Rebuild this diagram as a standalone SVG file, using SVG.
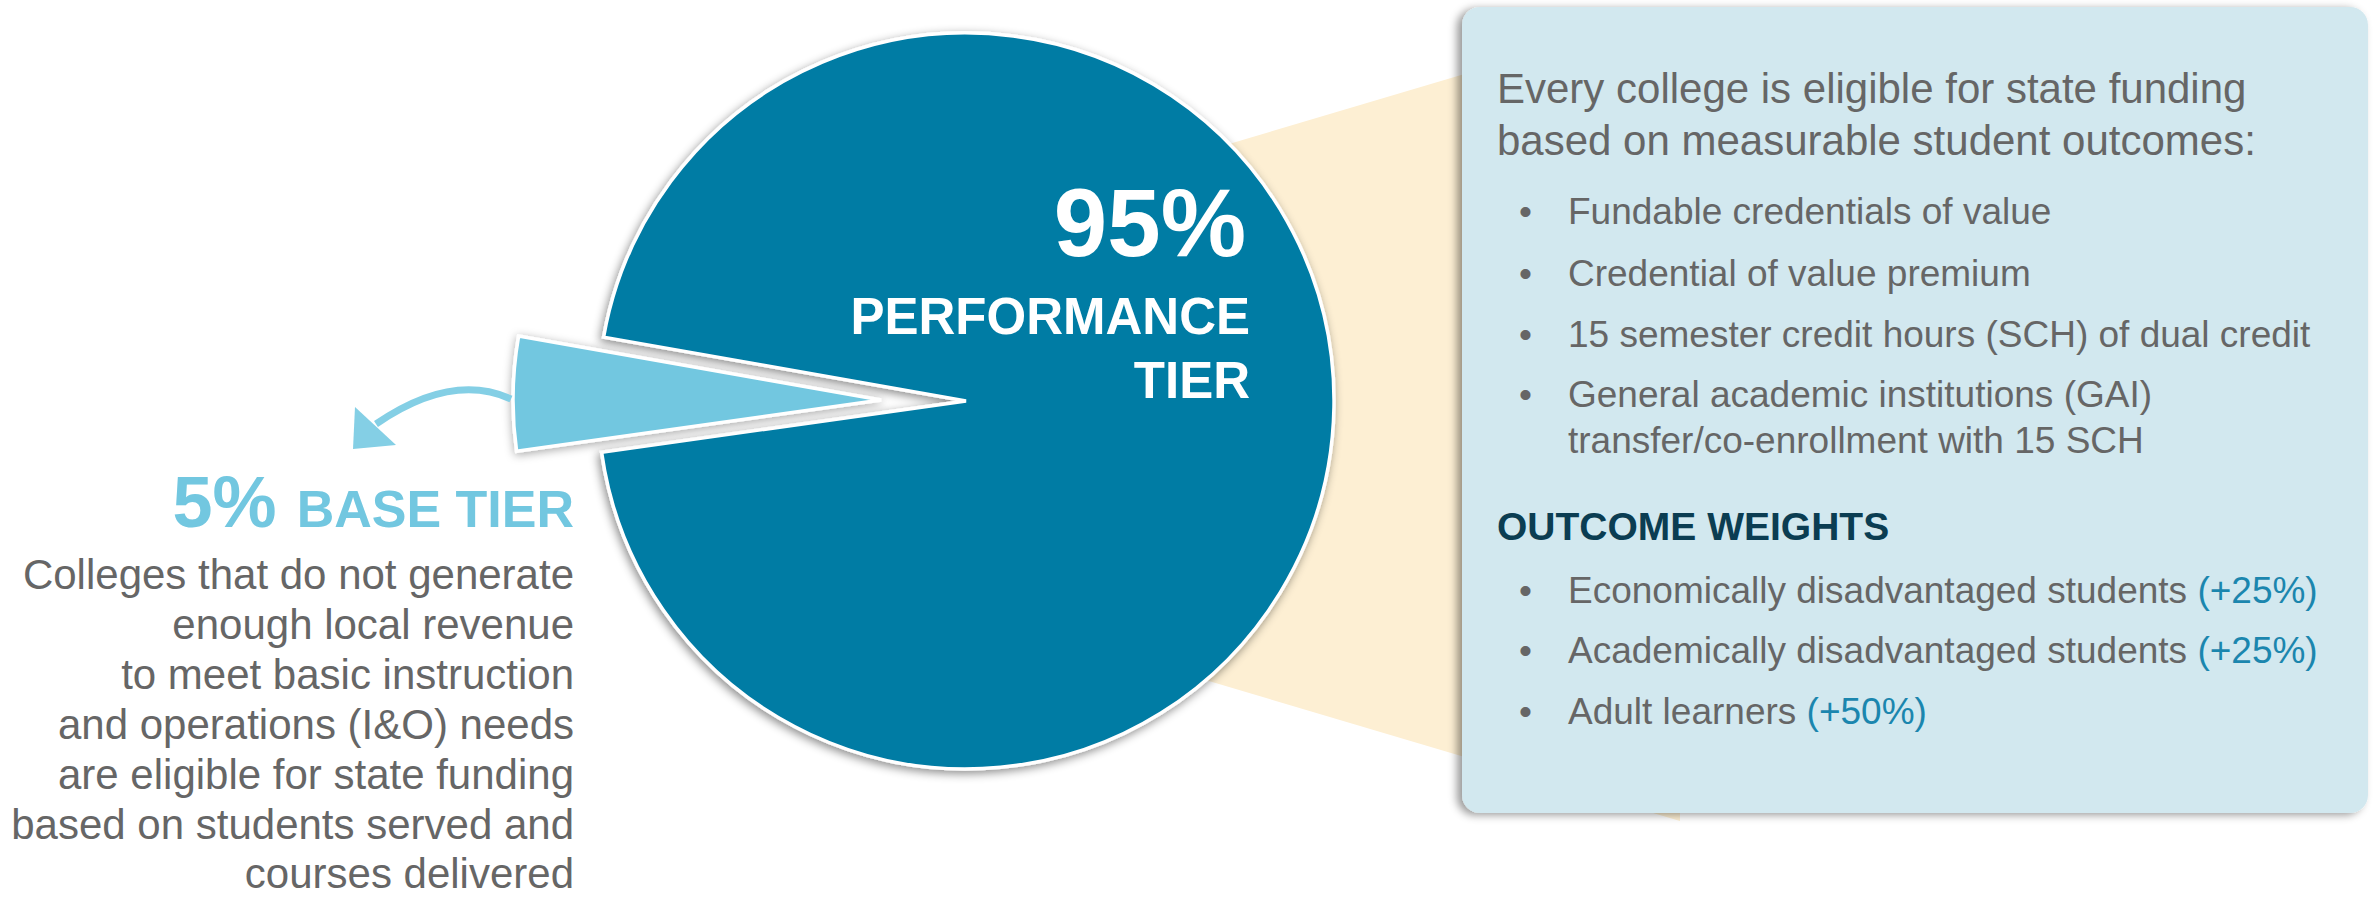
<svg xmlns="http://www.w3.org/2000/svg" width="2374" height="899" viewBox="0 0 2374 899">
  <defs>
    <filter id="pieShadow" x="-20%" y="-20%" width="140%" height="140%">
      <feDropShadow dx="-2" dy="3" stdDeviation="5" flood-color="#000" flood-opacity="0.45"/>
    </filter>
    <filter id="wedgeShadow" x="-20%" y="-30%" width="140%" height="160%">
      <feDropShadow dx="0" dy="2" stdDeviation="5" flood-color="#000" flood-opacity="0.35"/>
    </filter>
    <filter id="panelShadow" x="-5%" y="-5%" width="110%" height="110%">
      <feDropShadow dx="-5" dy="2" stdDeviation="4" flood-color="#000" flood-opacity="0.4"/>
    </filter>
  </defs>
  <style>
    .body { font-family: "Liberation Sans", Arial, sans-serif; fill: #666666; }
    .left { font-size: 42px; text-anchor: end; }
    .intro { font-size: 42px; }
    .bul { font-size: 37px; }
    .acc { fill: #1B86AE; }
    .bold { font-family: "Liberation Sans", Arial, sans-serif; font-weight: bold; }
  </style>
  <rect width="2374" height="899" fill="#ffffff"/>

  <g id="callout-band">
    <polygon points="1000,212 1680,10 1680,821 1000,619" fill="#FDEFD3"/>
  </g>

  <g id="pie-performance">
    <path d="M966 401 L603.6 337.1 A368 368 0 1 1 601.6 452.2 Z" fill="#027BA4" stroke="#ffffff" stroke-width="3.5" stroke-linejoin="miter" filter="url(#pieShadow)"/>
  </g>

  <g id="pie-base">
    <path d="M881 400 L518.6 336.1 A368 368 0 0 0 516.6 451.2 Z" fill="#72C7E0" stroke="#ffffff" stroke-width="3.5" filter="url(#wedgeShadow)"/>
  </g>

  <g id="connectors">
    <path d="M511 399 Q452 372 376 424" fill="none" stroke="#84CFE5" stroke-width="7"/>
    <polygon points="353,449 355,407 396,445" fill="#84CFE5"/>
  </g>

  <g id="label-performance">
    <text class="bold" x="1246" y="256" font-size="96" text-anchor="end" fill="#ffffff">95%</text>
    <text class="bold" x="1250" y="334" font-size="51" text-anchor="end" fill="#ffffff">PERFORMANCE</text>
    <text class="bold" x="1250" y="398" font-size="51" text-anchor="end" fill="#ffffff">TIER</text>
  </g>

  <g id="label-base">
    <text class="bold" x="574" y="527" text-anchor="end" fill="#72C7E0"><tspan font-size="72">5% </tspan><tspan font-size="52">BASE TIER</tspan></text>
    <text class="body left" x="574" y="589">Colleges that do not generate</text>
    <text class="body left" x="574" y="639">enough local revenue</text>
    <text class="body left" x="574" y="689">to meet basic instruction</text>
    <text class="body left" x="574" y="739">and operations (I&amp;O) needs</text>
    <text class="body left" x="574" y="789">are eligible for state funding</text>
    <text class="body left" x="574" y="839">based on students served and</text>
    <text class="body left" x="574" y="888">courses delivered</text>
  </g>

  <g id="panel">
    <rect x="1462" y="7" width="906" height="806" rx="18" ry="18" fill="#D2E8EF" filter="url(#panelShadow)"/>
    <text class="body intro" x="1497" y="103">Every college is eligible for state funding</text>
    <text class="body intro" x="1497" y="155">based on measurable student outcomes:</text>
    <g class="body bul">
      <text x="1519" y="224">•</text><text x="1568" y="224">Fundable credentials of value</text>
      <text x="1519" y="286">•</text><text x="1568" y="286">Credential of value premium</text>
      <text x="1519" y="347">•</text><text x="1568" y="347">15 semester credit hours (SCH) of dual credit</text>
      <text x="1519" y="407">•</text><text x="1568" y="407">General academic institutions (GAI)</text>
      <text x="1568" y="453">transfer/co-enrollment with 15 SCH</text>
    </g>
    <text class="bold" x="1497" y="540" font-size="39" fill="#0B3D52">OUTCOME WEIGHTS</text>
    <g class="body bul">
      <text x="1519" y="603">•</text><text x="1568" y="603">Economically disadvantaged students <tspan class="acc">(+25%)</tspan></text>
      <text x="1519" y="663">•</text><text x="1568" y="663">Academically disadvantaged students <tspan class="acc">(+25%)</tspan></text>
      <text x="1519" y="724">•</text><text x="1568" y="724">Adult learners <tspan class="acc">(+50%)</tspan></text>
    </g>
  </g>
</svg>
